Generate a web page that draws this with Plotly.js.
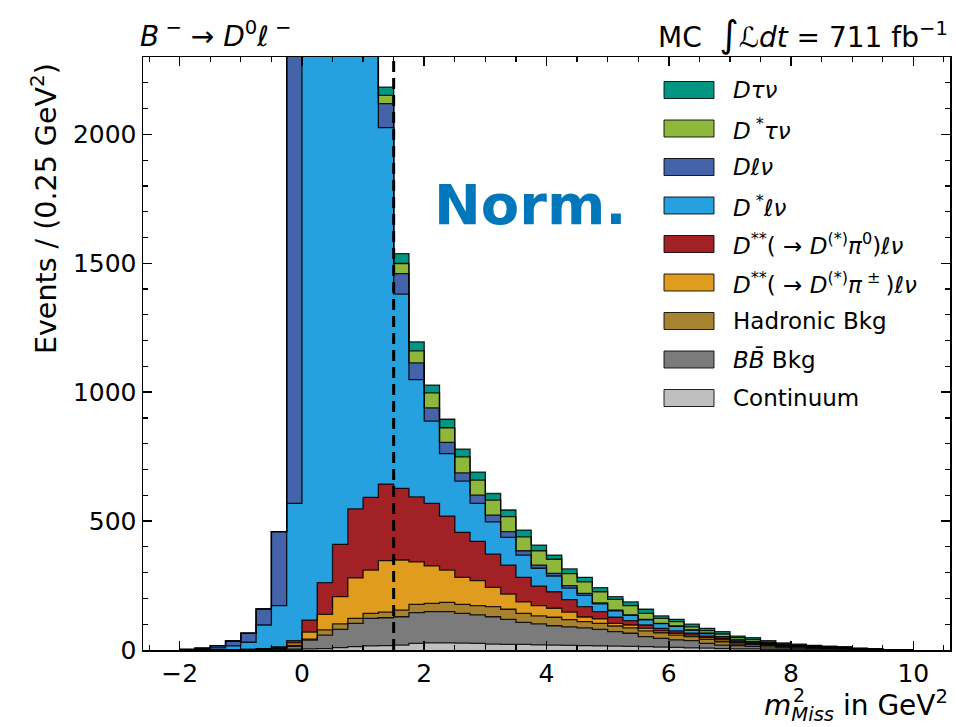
<!DOCTYPE html>
<html>
<head>
<meta charset="utf-8">
<script src="https://cdn.plot.ly/plotly-3.0.1.min.js"></script>
<style>html,body{margin:0;padding:0;background:#fff;}#chart{width:956px;height:727px;}</style>
</head>
<body>
<div id="chart"></div>
<script>
// ---- data (events per 0.25 GeV^2 bin, bins from -2 to 10) ----
const binLow = -2;
const binWidth = 0.25;

const continuum = [0,0,0,0,0,1,1, 3,4,5,9,13,16, 17,19,26,28,28,27,26,23, 22,22,20,19,18,17,16,15, 14,13,11,10,8,7,5,4, 4,3,3,2,2,2,1,1,0,0,0];
const bbBkg     = [0,0,0,0,1,1,4, 11,34,53,71,90,107, 108,110,119,121,121,115,110,106, 97,85,81,75,72,69,64,56, 51,39,34,29,28,19,14,13, 10,9,6,5,4,3,3,1,1,0,0];
const hadBkg    = [0,0,0,1,0,1,2, 4,4,20,21,20,19, 22,26,32,32,36,35,36,39, 39,35,31,33,28,24,23,22, 21,22,22,19,16,15,13,6, 7,6,5,4,3,2,2,1,1,0,0];
const dssPipm   = [0,0,0,0,1,1,3, 10,27,60,106,157,168, 200,194,165,145,125,105,97,75, 59,45,40,35,29,18,18,10, 11,10,7,7,6,7,7,5, 4,3,2,2,1,1,1,1,0,0,0];
const dssPi0    = [0,0,0,0,0,1,2, 8,47,123,203,267,282, 296,278,252,243,209,174,152,129, 112,95,76,64,48,40,28,24, 17,13,10,9,7,6,6,4, 3,2,2,2,2,1,1,0,0,0,0];
const dstarLnu  = [1,3,8,15,28,92,160, 533,3100,3600,3400,2800,1900, 1383,753,455,319,243,199,148,125, 108,86,69,61,45,44,30,25, 20,20,18,18,12,10,6,6, 4,3,2,2,2,2,1,1,1,0,0];
const dLnu      = [1,4,9,19,35,62,287, 2600,1500,700,400,250,150, 93,80,65,51,43,32,32,26, 22,17,12,10,10,8,4,3, 2,2,1,1,1,1,1,1, 1,0,0,0,0,0,0,0,0,0,0];
const dstarTau  = [0,0,0,0,0,0,0, 3,10,20,30,35,36, 32,39,46,58,57,62,58,58, 58,54,56,55,46,44,43,41, 36,23,20,17,12,10,10,9, 8,4,4,3,2,2,2,1,0,0,0];
const dTau      = [0,0,0,0,0,0,0, 5,12,25,32,33,33, 32,38,35,30,33,30,31,26, 26,26,22,16,19,18,16,11, 15,16,9,9,10,9,9,6, 7,6,4,3,2,2,2,1,1,1,0];

const seriesNames = ["Continuum", "<i>B</i><i>B̄</i> Bkg", "Hadronic Bkg",
  "<i>D</i><sup>**</sup>( → <i>D</i><sup>(*)</sup><i>π</i><sup> ± </sup>)<i>ℓν</i>",
  "<i>D</i><sup>**</sup>( → <i>D</i><sup>(*)</sup><i>π</i><sup>0</sup>)<i>ℓν</i>",
  "<i>D</i><sup> *</sup><i>ℓν</i>", "<i>Dℓν</i>", "<i>D</i><sup> *</sup><i>τν</i>", "<i>Dτν</i>"];
const seriesValues = [continuum, bbBkg, hadBkg, dssPipm, dssPi0, dstarLnu, dLnu, dstarTau, dTau];
const seriesColors = ["#bfbfbf", "#7b7b7b", "#a7822f", "#df9c1e", "#a22125", "#26a0df", "#4563a8", "#8db83c", "#009682"];

const xTickVals = [-2, 0, 2, 4, 6, 8, 10];
const yTickVals = [0, 500, 1000, 1500, 2000];
const cutValue = 1.5;

// ---- figure ----
const nBins = continuum.length;
const centers = continuum.map((_, i) => binLow + binWidth * (i + 0.5));
const edges = [];
for (let i = 0; i <= nBins; i++) edges.push(binLow + binWidth * i);
const FONT = "DejaVu Sans";

const traces = seriesValues.map((vals, k) => ({
  type: "bar",
  x: centers,
  y: vals,
  width: binWidth,
  name: seriesNames[k],
  marker: {color: seriesColors[k], line: {width: 0}},
  showlegend: false,
  hoverinfo: "skip"
}));

// step outlines of each stacked layer (like matplotlib stepfilled edges)
let cum = new Array(nBins).fill(0);
seriesValues.forEach((vals) => {
  cum = cum.map((c, i) => c + vals[i]);
  const xs = [edges[0]], ys = [0];
  for (let i = 0; i < nBins; i++) { xs.push(edges[i]); ys.push(cum[i]); }
  xs.push(edges[nBins]); ys.push(cum[nBins - 1]);
  xs.push(edges[nBins]); ys.push(0);
  traces.push({
    type: "scatter", mode: "lines", x: xs, y: ys,
    line: {shape: "hv", color: "rgba(0,0,0,0.85)", width: 1.3},
    showlegend: false, hoverinfo: "skip"
  });
});

const W = 956, H = 727;
const L = 143, R = 6, T = 57, B = 77;
const pw = W - L - R, ph = H - T - B;
const px = x => (x - L) / pw;
const py = y => (H - B - y) / ph;

const shapes = [{
  type: "line", xref: "x", yref: "paper", x0: cutValue, x1: cutValue, y0: 0, y1: 1,
  line: {color: "black", width: 3, dash: "11px,6px"}
}];
const annotations = [];

// custom legend (top entry = last series)
const legendOrder = seriesNames.map((_, k) => k).reverse();
legendOrder.forEach((k, row) => {
  const cy = 90 + 38.5 * row;
  shapes.push({
    type: "rect", xref: "paper", yref: "paper",
    x0: px(664), x1: px(714), y0: py(cy + 8.5), y1: py(cy - 8.5),
    fillcolor: seriesColors[k], line: {color: "rgba(0,0,0,0.85)", width: 1}
  });
  annotations.push({
    xref: "paper", yref: "paper", x: px(731), y: py(cy), xanchor: "left", yanchor: "middle",
    text: seriesNames[k], showarrow: false, font: {family: FONT, size: 23, color: "black"}
  });
});

annotations.push(
  {xref: "paper", yref: "paper", x: px(138), y: py(34), xanchor: "left", yanchor: "middle",
   text: "<i>B</i><sup> −</sup> → <i>D</i><sup>0</sup><i>ℓ</i><sup> −</sup>", showarrow: false,
   font: {family: FONT, size: 28, color: "black"}},
  {xref: "paper", yref: "paper", x: 1, y: py(34), xanchor: "right", yanchor: "middle",
   text: "MC  <span style=\"font-size:37px\">∫</span><i>ℒdt</i> = 711 fb<sup>−1</sup>", showarrow: false,
   font: {family: FONT, size: 28, color: "black"}},
  {xref: "paper", yref: "paper", x: px(530), y: py(204), xanchor: "center", yanchor: "middle",
   text: "<b>Norm.</b>", showarrow: false,
   font: {family: FONT, size: 56, color: "#0077BB"}},
  {xref: "paper", yref: "paper", x: px(44), y: py(209), xanchor: "center", yanchor: "middle",
   textangle: -90, text: "Events / (0.25 GeV<sup>2</sup>)", showarrow: false,
   font: {family: FONT, size: 28.5, color: "black"}},
  {xref: "paper", yref: "paper", x: 1, y: py(705), xanchor: "right", yanchor: "middle",
   text: "<i>m</i><sub><i>Miss</i></sub> in GeV<sup>2</sup>", showarrow: false,
   font: {family: FONT, size: 28, color: "black"}},
  {xref: "paper", yref: "paper", x: px(791), y: py(695), xanchor: "left", yanchor: "middle",
   text: "2", showarrow: false,
   font: {family: FONT, size: 19, color: "black"}}
);

const axisCommon = {
  showline: true, linecolor: "black", linewidth: 1.5, mirror: "allticks",
  ticks: "inside", ticklen: 9, tickwidth: 1.5, tickcolor: "black",
  showgrid: false, zeroline: false,
  tickfont: {family: FONT, size: 25, color: "black"}
};

const layout = {
  width: W, height: H,
  margin: {l: L, r: R, t: T, b: B, pad: 0},
  paper_bgcolor: "white", plot_bgcolor: "white",
  barmode: "stack", bargap: 0,
  showlegend: false,
  xaxis: Object.assign({}, axisCommon, {
    range: [-2.6, 10.6], tickmode: "array", tickvals: xTickVals,
    minor: {dtick: 0.5, tick0: 0, ticks: "inside", ticklen: 5, tickwidth: 1.2, tickcolor: "black"}
  }),
  yaxis: Object.assign({}, axisCommon, {
    range: [0, 2300], tickmode: "array", tickvals: yTickVals,
    minor: {dtick: 100, tick0: 0, ticks: "inside", ticklen: 5, tickwidth: 1.2, tickcolor: "black"}
  }),
  shapes: shapes,
  annotations: annotations
};

Plotly.newPlot("chart", traces, layout, {staticPlot: true, displayModeBar: false});
</script>
</body>
</html>
